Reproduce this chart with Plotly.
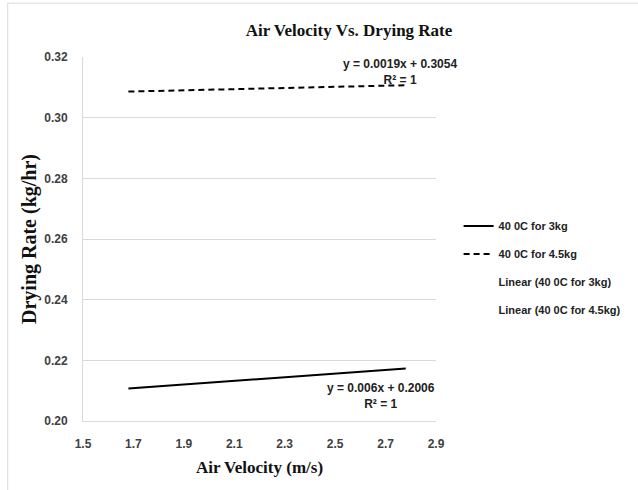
import plotly.graph_objects as go

# Air velocity (m/s) and measured drying rate (kg/hr)
velocity = [1.68, 2.78]
rate_3kg = [0.2107, 0.2173]
rate_45kg = [0.3086, 0.3107]

series_names = ["40 0C for 3kg", "40 0C for 4.5kg",
                "Linear (40 0C for 3kg)", "Linear (40 0C for 4.5kg)"]
eq_3kg = "y = 0.006x + 0.2006<br>R² = 1"
eq_45kg = "y = 0.0019x + 0.3054<br>R² = 1"

x_ticks = [1.5, 1.7, 1.9, 2.1, 2.3, 2.5, 2.7, 2.9]
y_ticks = [0.20, 0.22, 0.24, 0.26, 0.28, 0.30, 0.32]

sans = "Liberation Sans Narrow, Liberation Sans, Arial"
tick_font = dict(family=sans, size=12, color="#404040", weight="bold")
label_font = dict(family=sans, size=12, color="#222222", weight="bold")
serif_bold = dict(family="Liberation Serif, Times New Roman, serif", color="#111111",
                  weight="bold")

fig = go.Figure()
fig.add_trace(go.Scatter(x=velocity, y=rate_3kg, mode="lines", name=series_names[0],
                         legendgroup="a", line=dict(color="black", width=2)))
fig.add_trace(go.Scatter(x=velocity, y=rate_45kg, mode="lines", name=series_names[1],
                         legendgroup="b", line=dict(color="black", width=2, dash="6px,4px")))
# trendlines: coincide with the data, drawn without a visible stroke
fig.add_trace(go.Scatter(x=velocity, y=rate_3kg, mode="lines", name=series_names[2],
                         legendgroup="c", line=dict(color="rgba(0,0,0,0)", width=0)))
fig.add_trace(go.Scatter(x=velocity, y=rate_45kg, mode="lines", name=series_names[3],
                         legendgroup="d", line=dict(color="rgba(0,0,0,0)", width=0)))

fig.add_annotation(x=2.757, y=0.3151, text=eq_45kg, showarrow=False, align="center",
                   font=label_font)
fig.add_annotation(x=2.68, y=0.2084, text=eq_3kg, showarrow=False, align="center",
                   font=label_font)

# outer chart border
fig.add_shape(type="rect", xref="paper", yref="paper", x0=-0.2133, x1=1.7, y0=-0.4, y1=1.148,
              line=dict(color="#d9d9d9", width=1), layer="below")

fig.update_layout(
    width=638, height=490,
    margin=dict(l=83, r=194, t=57, b=69),
    paper_bgcolor="white", plot_bgcolor="white",
    title=dict(text="Air Velocity Vs. Drying Rate", x=349 / 638, xanchor="center",
               y=1 - 30 / 490, yanchor="middle", font=dict(size=17, **serif_bold)),
    showlegend=True,
    legend=dict(x=1.064, xanchor="left", y=0.42, yanchor="middle", tracegroupgap=9,
                font=dict(family=sans, size=11, color="#222", weight="bold"),
                bgcolor="rgba(0,0,0,0)"),
    xaxis=dict(range=[1.5, 2.9], tickvals=x_ticks, ticktext=[f"{v:.1f}" for v in x_ticks],
               showgrid=False, zeroline=False, showline=True, linecolor="#d9d9d9",
               ticks="", tickfont=tick_font, ticklabelstandoff=12,
               title=dict(text="Air Velocity (m/s)", font=dict(size=17, **serif_bold),
                          standoff=10)),
    yaxis=dict(range=[0.20, 0.32], tickvals=y_ticks, ticktext=[f"{v:.2f}" for v in y_ticks],
               showgrid=True, gridcolor="#d9d9d9", gridwidth=1, zeroline=False,
               showline=True, linecolor="#d9d9d9", ticks="", tickfont=tick_font,
               ticklabelstandoff=12,
               title=dict(text="Drying Rate (kg/hr)", font=dict(size=20, **serif_bold),
                          standoff=2)),
)

fig.write_html("out.html")
